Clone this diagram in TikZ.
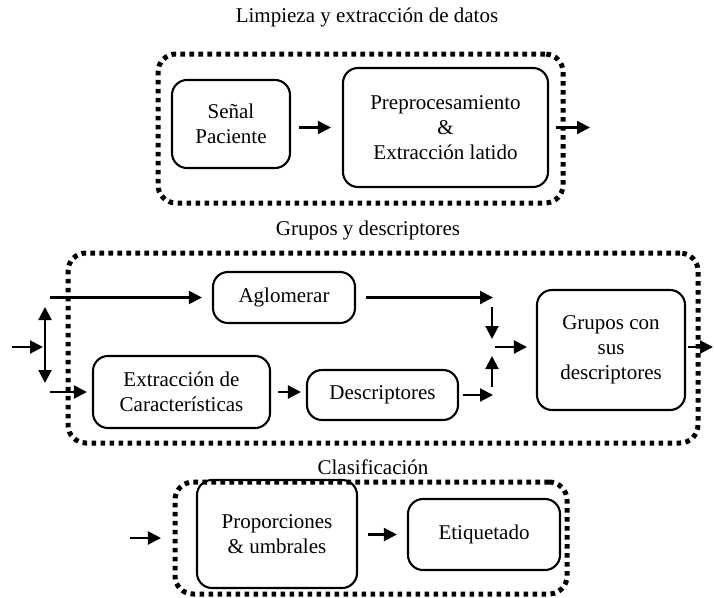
\documentclass[tikz,border=0pt]{standalone}
\usepackage{fontspec}
\setmainfont{Liberation Serif}
\usetikzlibrary{arrows.meta}
\begin{document}
\begin{tikzpicture}[x=1pt,y=-1pt,
  every node/.style={font=\fontsize{21}{25}\selectfont, align=center, inner sep=0pt},
  stepbox/.style={draw, line width=2.1pt, rounded corners=15pt},
  groupbox/.style={draw, line width=5pt, dash pattern=on 4.6pt off 4.4pt, rounded corners=18pt},
  arr/.style={line width=2.1pt, -{Triangle[length=13pt,width=13pt]}},
  title/.style={}
]
\useasboundingbox (0,0) rectangle (714,597);

% group frames
\node[groupbox, minimum width=405pt, minimum height=149pt] (g1) at (360.5,128.5) {};
\node[groupbox, minimum width=630pt, minimum height=190pt] (g2) at (383,348) {};
\node[groupbox, minimum width=392pt, minimum height=112pt] (g3) at (371,538) {};

% titles
\node[title] (t1) at (367,17) {Limpieza y extracción de datos};
\node[title] (t2) at (368,230) {Grupos y descriptores};
\node[title] (t3) at (373,467) {Clasificación};

% top group
\node[stepbox, minimum width=118pt, minimum height=88pt] (s) at (231,124) {Señal\\Paciente};
\node[stepbox, minimum width=205pt, minimum height=119pt] (p) at (445.5,127.5) {Preprocesamiento\\\&\\Extracción latido};
\coordinate (out1) at (590,127.5);
\draw[arr, shorten <=8pt, shorten >=11pt] (s.east |- p.west) -- (p.west);
\draw[arr, shorten <=7pt] (p.east) -- (out1);

% middle group
\node[stepbox, minimum width=142pt, minimum height=51pt] (ag) at (284,297.5) {Aglomerar};
\node[stepbox, minimum width=177pt, minimum height=72pt] (ex) at (181.5,392) {Extracción de\\Características};
\node[stepbox, minimum width=151pt, minimum height=50pt] (de) at (382.5,395) {Descriptores};
\node[stepbox, minimum width=148pt, minimum height=120pt] (gr) at (611,350) {Grupos con\\sus\\descriptores};

\coordinate (in2) at (12,347);
\coordinate (split) at (45,347);
\coordinate (splitup) at (45,307);
\coordinate (splitdn) at (45,383);
\coordinate (agin) at (50,297.5);
\coordinate (exin) at (50,392);
\coordinate (agout) at (493,297.5);
\coordinate (deout) at (493,395);
\coordinate (mtop) at (492,307);
\coordinate (mtopend) at (492,339);
\coordinate (mbot) at (492,387);
\coordinate (mbotend) at (492,356);
\coordinate (mid) at (495,347);
\coordinate (out2) at (713,347);

\draw[arr, shorten >=2pt] (in2) -- (split);
\draw[arr] (split) -- (splitup);
\draw[arr] (split) -- (splitdn);
\draw[arr, shorten >=10pt] (agin) -- (ag.west);
\draw[arr, shorten >=5pt] (exin) -- (ex.west);
\draw[arr, shorten <=10pt] (ag.east) -- (agout);
\draw[arr, shorten <=4pt] (de.east |- deout) -- (deout);
\draw[arr] (mtop) -- (mtopend);
\draw[arr] (mbot) -- (mbotend);
\draw[arr, shorten >=9pt] (mid) -- (mid -| gr.west);
\draw[arr, shorten <=2pt] (gr.east |- out2) -- (out2);
\draw[arr, shorten <=7pt, shorten >=5pt] (ex.east) -- (ex.east -| de.west);

% bottom group
\node[stepbox, minimum width=160pt, minimum height=108pt] (pr) at (277,534) {Proporciones\\\& umbrales};
\node[stepbox, minimum width=152pt, minimum height=71pt] (et) at (484,534.5) {Etiquetado};
\coordinate (in3) at (130,538);
\draw[arr, shorten >=35pt] (in3) -- (in3 -| pr.west);
\draw[arr, shorten <=10pt, shorten >=10pt] (pr.east |- et.west) -- (et.west);
\end{tikzpicture}
\end{document}
